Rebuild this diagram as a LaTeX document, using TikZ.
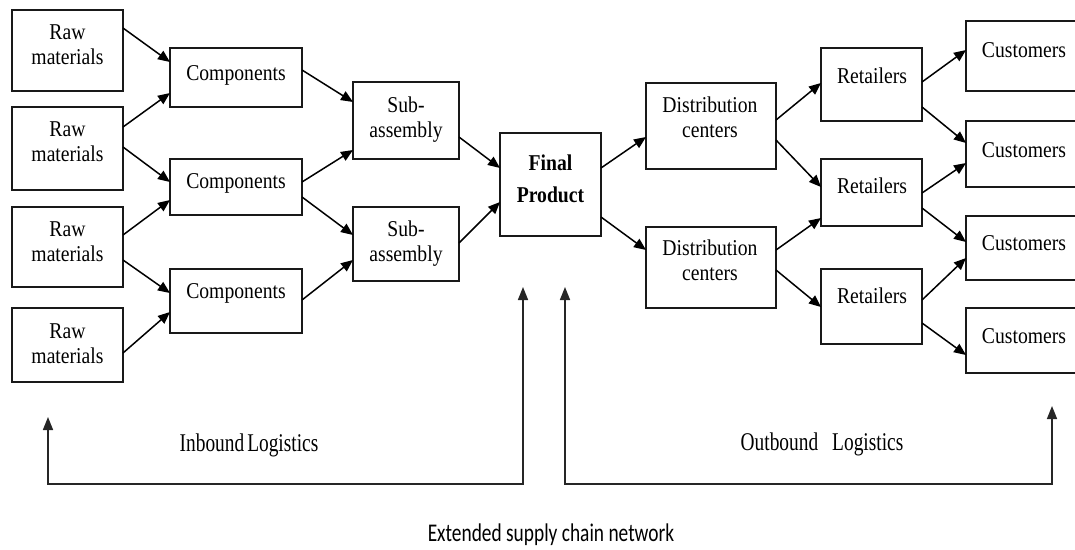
\documentclass[tikz,border=0pt]{standalone}
\usepackage{fontspec}
\setmainfont{Liberation Serif}[FakeStretch=0.87]
\newfontfamily\botfont{Liberation Serif}[FakeStretch=0.76]
\newfontfamily\capfont{Carlito}[FakeStretch=0.76]
\usetikzlibrary{arrows.meta}
\begin{document}
\begin{tikzpicture}[x=1pt,y=-1pt,
  boxnode/.style={draw=black!90, line width=1.8pt, rectangle, inner sep=0pt, outer sep=0pt},
  lbl/.style={align=center, inner sep=0pt, font=\fontsize{22.6}{25}\selectfont},
  lblbold/.style={align=center, inner sep=0pt, font=\bfseries\fontsize{22.6}{32}\selectfont},
  flow/.style={line width=1.5pt, -{Triangle[length=12pt,width=10pt]}},
  loop/.style={line width=1.6pt, draw=black!85, {Triangle[length=13pt,width=10pt]}-{Triangle[length=13pt,width=10pt]}},
  botlbl/.style={inner sep=0pt, anchor=base, font=\botfont\fontsize{25.5}{28}\selectfont},
  caplbl/.style={inner sep=0pt, anchor=base, font=\capfont\fontsize{25.5}{28}\selectfont}
]
\useasboundingbox (0,0) rectangle (1075,549);
\newcommand{\bx}[5]{\node[boxnode, minimum width={(#4-#2)*1pt}, minimum height={(#5-#3)*1pt}] (#1) at ({(#2+#4)/2},{(#3+#5)/2}) {};}
% boxes
\bx{r1}{12}{10}{123}{91}
\bx{r2}{12}{107}{123}{190}
\bx{r3}{12}{207}{123}{287}
\bx{r4}{12}{308}{123}{382}
\bx{c1}{170}{48}{302}{107}
\bx{c2}{170}{159}{302}{215}
\bx{c3}{170}{269}{302}{333}
\bx{s1}{353}{82}{459}{159}
\bx{s2}{353}{207}{459}{281}
\bx{fp}{500}{133}{601}{236}
\bx{d1}{646}{83}{776}{169}
\bx{d2}{646}{227}{776}{308}
\bx{t1}{821}{48}{922}{121}
\bx{t2}{821}{159}{922}{226}
\bx{t3}{821}{269}{922}{344}
\bx{u1}{966}{21}{1090}{91}
\bx{u2}{966}{121}{1090}{187}
\bx{u3}{966}{216}{1090}{280}
\bx{u4}{966}{308}{1090}{373}
% labels
\node[lbl] (r1t) at (67.5,45) {Raw\\materials};
\node[lbl] (r2t) at (67.5,142) {Raw\\materials};
\node[lbl] (r3t) at (67.5,241.5) {Raw\\materials};
\node[lbl] (r4t) at (67.5,343.5) {Raw\\materials};
\node[lbl, anchor=base] (c1t) at (236,80) {Components};
\node[lbl, anchor=base] (c2t) at (236,188) {Components};
\node[lbl, anchor=base] (c3t) at (236,298) {Components};
\node[lbl] (s1t) at (406,120) {Sub-\\assembly};
\node[lbl] (s2t) at (406,243.5) {Sub-\\assembly};
\node[lblbold] (fpt) at (550.5,178.5) {Final\\Product};
\node[lbl] (d1t) at (710,117) {Distribution\\centers};
\node[lbl] (d2t) at (710,260) {Distribution\\centers};
\node[lbl, anchor=base] (t1t) at (872,83) {Retailers};
\node[lbl, anchor=base] (t2t) at (872,193) {Retailers};
\node[lbl, anchor=base] (t3t) at (872,303) {Retailers};
\node[lbl, anchor=base] (u1t) at (1024,57) {Customers};
\node[lbl, anchor=base] (u2t) at (1024,157) {Customers};
\node[lbl, anchor=base] (u3t) at (1024,250) {Customers};
\node[lbl, anchor=base] (u4t) at (1024,343) {Customers};
% flows
\draw[flow] ([yshift=-18pt]r1.north east) -- ([yshift=-14pt]c1.north west);
\draw[flow] ([yshift=-20pt]r2.north east) -- ([yshift=-45pt]c1.north west);
\draw[flow] ([yshift=-40pt]r2.north east) -- ([yshift=-23pt]c2.north west);
\draw[flow] ([yshift=-28pt]r3.north east) -- ([yshift=-41pt]c2.north west);
\draw[flow] ([yshift=-53pt]r3.north east) -- ([yshift=-24pt]c3.north west);
\draw[flow] ([yshift=-45pt]r4.north east) -- ([yshift=-43pt]c3.north west);
\draw[flow] ([yshift=-22pt]c1.north east) -- ([yshift=-20pt]s1.north west);
\draw[flow] ([yshift=-23pt]c2.north east) -- ([yshift=-68pt]s1.north west);
\draw[flow] ([yshift=-38pt]c2.north east) -- ([yshift=-28pt]s2.north west);
\draw[flow] ([yshift=-31pt]c3.north east) -- ([yshift=-53pt]s2.north west);
\draw[flow] ([yshift=-55pt]s1.north east) -- ([yshift=-35pt]fp.north west);
\draw[flow] ([yshift=-36pt]s2.north east) -- ([yshift=-69pt]fp.north west);
\draw[flow] ([yshift=-35pt]fp.north east) -- ([yshift=-54pt]d1.north west);
\draw[flow] ([yshift=-84pt]fp.north east) -- ([yshift=-23pt]d2.north west);
\draw[flow] ([yshift=-37pt]d1.north east) -- ([yshift=-35pt]t1.north west);
\draw[flow] ([yshift=-57pt]d1.north east) -- ([yshift=-28pt]t2.north west);
\draw[flow] ([yshift=-23pt]d2.north east) -- ([yshift=-59pt]t2.north west);
\draw[flow] ([yshift=-43pt]d2.north east) -- ([yshift=-38pt]t3.north west);
\draw[flow] ([yshift=-34pt]t1.north east) -- ([yshift=-29pt]u1.north west);
\draw[flow] ([yshift=-59pt]t1.north east) -- ([yshift=-22pt]u2.north west);
\draw[flow] ([yshift=-34pt]t2.north east) -- ([yshift=-42pt]u2.north west);
\draw[flow] ([yshift=-49pt]t2.north east) -- ([yshift=-26pt]u3.north west);
\draw[flow] ([yshift=-31pt]t3.north east) -- ([yshift=-42pt]u3.north west);
\draw[flow] ([yshift=-54pt]t3.north east) -- ([yshift=-47pt]u4.north west);
% logistics loops
\coordinate (ia) at (48,417);
\coordinate (ib) at (48,484);
\coordinate (ic) at (523,484);
\coordinate (id) at (523,287);
\coordinate (oa) at (565,287);
\coordinate (ob) at (565,484);
\coordinate (oc) at (1052,484);
\coordinate (od) at (1052,406);
\draw[loop] (ia) -- (ib) -- (ic) -- (id);
\draw[loop] (oa) -- (ob) -- (oc) -- (od);
\node[botlbl] (inb) at (249,451) {Inbound\hspace{3pt}Logistics};
\node[botlbl] (outb) at (822,450) {Outbound\hspace{0.55em}Logistics};
\node[caplbl] (cap) at (551,541) {Extended supply chain network};
\end{tikzpicture}
\end{document}
